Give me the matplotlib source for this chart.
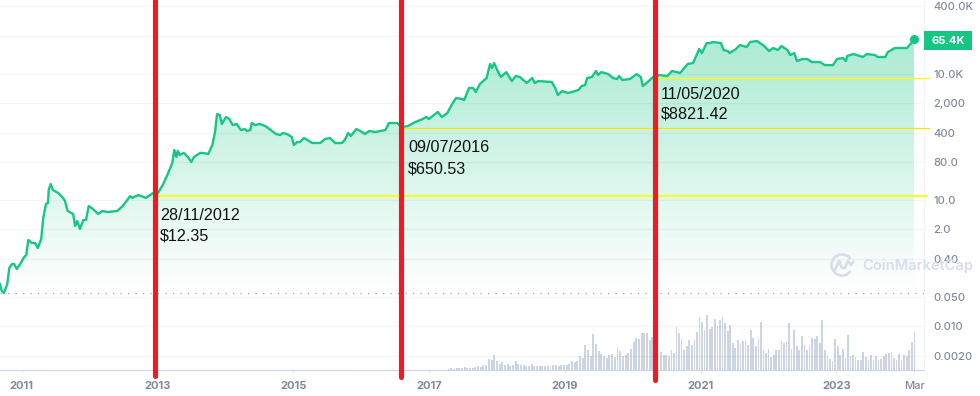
#!/usr/bin/python3
# plot.py

import numpy as np
import matplotlib
matplotlib.use("Agg")
import matplotlib.pyplot as plt
from matplotlib.colors import LinearSegmentedColormap
from matplotlib.patches import Arc, Polygon, Rectangle

price_years = [
    2010.68, 2010.71, 2010.74, 2010.79, 2010.82, 2010.86, 2010.89, 2010.93, 2010.98, 2011.04,
    2011.07, 2011.10, 2011.15, 2011.20, 2011.24, 2011.29, 2011.32, 2011.36, 2011.39, 2011.40,
    2011.43, 2011.46, 2011.54, 2011.61, 2011.64, 2011.68, 2011.76, 2011.79, 2011.82, 2011.86,
    2011.91, 2011.95, 2011.99, 2012.05, 2012.13, 2012.19, 2012.27, 2012.41, 2012.49, 2012.57,
    2012.60, 2012.63, 2012.72, 2012.83, 2012.94, 2013.01, 2013.08, 2013.16, 2013.22, 2013.25,
    2013.28, 2013.30, 2013.33, 2013.39, 2013.45, 2013.50, 2013.54, 2013.63, 2013.67, 2013.75,
    2013.81, 2013.85, 2013.88, 2013.92, 2013.95, 2014.01, 2014.06, 2014.11, 2014.17, 2014.23,
    2014.29, 2014.32, 2014.37, 2014.39, 2014.44, 2014.51, 2014.59, 2014.69, 2014.75, 2014.81,
    2014.85, 2014.91, 2014.98, 2015.01, 2015.06, 2015.10, 2015.16, 2015.28, 2015.40, 2015.47,
    2015.54, 2015.62, 2015.72, 2015.76, 2015.81, 2015.85, 2015.93, 2015.99, 2016.06, 2016.12,
    2016.21, 2016.36, 2016.41, 2016.53, 2016.60, 2016.69, 2016.80, 2016.91, 2016.96, 2017.00,
    2017.13, 2017.19, 2017.27, 2017.35, 2017.40, 2017.49, 2017.52, 2017.59, 2017.65, 2017.69,
    2017.75, 2017.85, 2017.90, 2017.93, 2017.96, 2018.02, 2018.06, 2018.14, 2018.22, 2018.28,
    2018.34, 2018.44, 2018.52, 2018.56, 2018.61, 2018.81, 2018.86, 2018.90, 2018.96, 2019.05,
    2019.20, 2019.25, 2019.30, 2019.33, 2019.40, 2019.46, 2019.49, 2019.54, 2019.64, 2019.71,
    2019.77, 2019.80, 2019.85, 2019.96, 2020.06, 2020.12, 2020.15, 2020.22, 2020.30, 2020.40,
    2020.51, 2020.58, 2020.70, 2020.81, 2020.89, 2020.98, 2021.02, 2021.09, 2021.14, 2021.18,
    2021.30, 2021.34, 2021.40, 2021.43, 2021.52, 2021.58, 2021.68, 2021.73, 2021.83, 2021.92,
    2022.01, 2022.07, 2022.14, 2022.19, 2022.28, 2022.32, 2022.38, 2022.42, 2022.50, 2022.57,
    2022.64, 2022.76, 2022.83, 2022.95, 2023.01, 2023.10, 2023.14, 2023.16, 2023.25, 2023.39,
    2023.45, 2023.57, 2023.61, 2023.72, 2023.76, 2023.86, 2024.04, 2024.15,
]
price_values = [
    0.101, 0.069, 0.062, 0.101, 0.243, 0.302, 0.302, 0.230, 0.302, 0.443,
    0.494, 1.12, 0.952, 0.952, 0.724, 1.18, 3.73, 8.03, 8.49, 17.3,
    24.0, 17.3, 14.7, 11.2, 9.47, 5.48, 4.65, 2.41, 3.17, 2.05,
    3.35, 3.35, 7.20, 6.11, 4.65, 5.48, 5.18, 5.48, 7.20, 10.6,
    12.4, 11.2, 13.1, 11.2, 14.7, 14.7, 22.7, 43.7, 75.5, 154,
    105, 146, 117, 131, 105, 79.8, 105, 131, 131, 124,
    202, 412, 1100, 1040, 637, 935, 838, 603, 637, 459,
    485, 435, 459, 673, 603, 637, 571, 435, 369, 349,
    390, 369, 313, 202, 238, 238, 297, 226, 226, 281,
    297, 226, 226, 266, 390, 331, 485, 435, 369, 435,
    412, 459, 673, 673, 541, 571, 711, 838, 935, 838,
    1230, 935, 1160, 2010, 2640, 2500, 2370, 4560, 4560, 3670,
    5680, 7890, 17000, 13600, 17900, 10900, 8330, 10900, 6690, 8800,
    8330, 6000, 7890, 6000, 6690, 6340, 4560, 3110, 3870, 3470,
    4090, 5090, 5380, 7890, 8330, 11600, 9290, 10900, 9810, 7890,
    7470, 8800, 7070, 7470, 9810, 8330, 5090, 6340, 8330, 9290,
    8800, 11600, 10400, 17000, 17900, 38500, 30900, 53500, 53500, 56500,
    53500, 36500, 34500, 30900, 38500, 48000, 43000, 56500, 59700, 48000,
    34500, 40700, 36500, 45400, 36500, 27700, 30900, 20000, 22300, 22300,
    18900, 18900, 16000, 16000, 22300, 23500, 20000, 26300, 29300, 24900,
    29300, 27700, 24900, 24900, 32700, 40700, 40700, 65400,
]

# relative volume, 2017 to the 2020 halving
volume_early = [
    1.5, 2, 1.5, 2, 2, 2, 3, 2, 2.5, 2, 3, 4, 3, 5, 5, 11, 10.5, 15, 9, 6.5,
    8, 5.5, 6, 4.5, 5, 9, 6.5, 5, 5, 4, 4, 6, 4.5, 4, 4.5, 4.5, 4, 4, 4, 5,
    5, 4.5, 5, 5, 5, 6, 9, 8.5, 9, 14, 12, 25, 20, 14.5, 36, 26, 19, 16, 14, 12,
    15, 16, 13, 22, 19, 14, 15, 17, 21, 28, 32, 31, 37, 37, 37, 30, 33, 19,
]
# relative volume, after that
volume_late = [
    18, 15, 15, 14, 20, 17, 43, 37, 31, 20, 24, 30, 25, 30, 38, 53, 48, 40, 55, 41,
    43, 51, 44, 50, 53, 47, 39, 45, 27, 22, 30, 26, 29, 30, 25, 40, 32, 24, 31, 48,
    20, 17, 21, 13, 15, 20, 20, 29, 27, 28, 47, 21, 40, 24, 20, 34, 25, 20, 25, 32,
    31, 34, 27, 50, 20, 14, 11, 9, 31, 24, 15, 21, 12, 35, 14, 15, 13, 10, 10, 18,
    13, 10, 15, 10, 14, 10, 11, 14, 16, 17, 18, 12, 10, 16, 10, 15, 14, 20, 28, 38,
]

y_ticks = [400000, 80000, 10000, 2000, 400, 80, 10, 2, 0.4, 0.05, 0.01, 0.002]
y_labels = ["400.0K", "", "10.0K", "2,000", "400", "80.0", "10.0", "2.0", "0.40", "0.050", "0.010", "0.0020"]
x_ticks = [2011, 2013, 2015, 2017, 2019, 2021, 2023, 2024.15]
x_labels = ["2011", "2013", "2015", "2017", "2019", "2021", "2023", "Mar"]

marker_years = [2012.97, 2016.59, 2020.33]
marker_levels = [12.2, 527, 7690]
marker_dates = ["28/11/2012", "09/07/2016", "11/05/2020"]
marker_prices = ["$12.35", "$650.53", "$8821.42"]

GREEN = "#16c784"
GREY = "#808a9d"
FAINT = "#cdd4e3"
MARK = "#d8dde9"

plt.rcParams["font.family"] = ["Inter", "DejaVu Sans"]

fig = plt.figure(figsize=(9.8, 3.96), dpi=100)
ax = fig.add_axes([0, 26 / 396, 924 / 980, 370 / 396])
ax.set_yscale("log")
ax.set_xlim(2010.683, 2024.291)
ax.set_ylim(0.000916, 563000)
ax.set_zorder(2)
ax.patch.set_visible(False)

# volume sits on its own linear scale under the price
ax2 = fig.add_axes(ax.get_position(), sharex=ax)
ax2.set_ylim(0, 370)
ax2.set_zorder(1)
ax2.axis("off")
ax2.bar(np.linspace(2017.29, 2020.33, len(volume_early)), volume_early, width=0.029, color=FAINT, linewidth=0)
ax2.bar(np.linspace(2020.42, 2024.15, len(volume_late)), volume_late, width=0.025, color=FAINT, linewidth=0)

# gradient under the price line
floor = min(price_values)
fade = LinearSegmentedColormap.from_list("fade", [(22 / 255, 199 / 255, 132 / 255, 0), (22 / 255, 199 / 255, 132 / 255, 0.36)])
y_edges = np.geomspace(floor, 80000, 150)
mesh = ax.pcolormesh([price_years[0], price_years[-1]], y_edges, np.linspace(0, 1, 149).reshape(-1, 1),
                     cmap=fade, shading="flat", antialiased=False, linewidth=0, zorder=1)
outline = list(zip(price_years, price_values)) + [(price_years[-1], floor), (price_years[0], floor)]
clip = Polygon(outline, closed=True, transform=ax.transData, facecolor="none", edgecolor="none")
ax.add_patch(clip)
mesh.set_clip_path(clip)

ax.axhline(floor, color="#9aa1ad", linestyle=(0, (1, 5)), linewidth=0.9, zorder=2)
for tick in y_ticks:
    ax.axhline(tick, color=(0, 0, 0, 0.04), linewidth=1, zorder=2)

ax.plot(price_years, price_values, color=GREEN, linewidth=1.7, solid_joinstyle="round", zorder=3)
ax.plot(price_years[-1], price_values[-1], "o", color=GREEN, markersize=5.5, zorder=4)

for spine in ["top", "left"]:
    ax.spines[spine].set_visible(False)
ax.spines["right"].set_color("#f1f3f6")
ax.spines["bottom"].set_color(FAINT)
ax.spines["bottom"].set_linestyle((0, (1.3, 0.6)))

ax.yaxis.tick_right()
ax.set_yticks(y_ticks, y_labels)
ax.minorticks_off()
ax.tick_params(axis="y", length=0, pad=6.5, labelsize=8, labelcolor=GREY)
ax.set_xticks(x_ticks, x_labels)
ax.tick_params(axis="x", length=2, width=0.8, color="#e4e7ec", pad=6, labelsize=8, labelcolor=GREY)
for label in ax.get_xticklabels():
    label.set_fontweight("bold")
for label in ax.get_yticklabels():
    label.set_fontweight("medium")
ax.get_xticklabels()[-1].set_fontweight("medium")

# hand drawn annotations
red_ends = [0.00066, 0.00062, 0.00053]
x_left = [2012.99, 2016.62, 2020.35]
x_right = [2024.33, 2024.36, 2024.37]
text_years = [2013.04, 2016.69, 2020.42]
date_y = [4.17, 172, 3210]
price_y = [1.36, 55, 1100]
for i in range(3):
    ax.plot([marker_years[i], marker_years[i]], [red_ends[i], 563000], color="#ed1c24", linewidth=3.7,
            solid_capstyle="round", clip_on=False, zorder=6)
    ax.plot([x_left[i], x_right[i]], [marker_levels[i], marker_levels[i]], color="#ffff00" if i != 1 else "#f7e600",
            linewidth=1.3 if i == 0 else 0.9, clip_on=False, zorder=5)
    ax.text(text_years[i], date_y[i], marker_dates[i], family="Liberation Sans", fontsize=11.6, color="#111111", va="center", zorder=7)
    ax.text(text_years[i], price_y[i], marker_prices[i], family="Liberation Sans", fontsize=11.6, color="#111111", va="center", zorder=7)

# pixel overlay for the price tag and the watermark
over = fig.add_axes([0, 0, 1, 1])
over.set_xlim(0, 980)
over.set_ylim(396, 0)
over.axis("off")
over.set_zorder(8)
over.add_patch(Rectangle((924, 31), 48, 19, facecolor=GREEN, edgecolor="none"))
over.text(948, 40.5, "65.4K", color="white", fontsize=8, fontweight="bold", ha="center", va="center")
over.add_patch(Arc((842, 265), 21, 21, theta1=35, theta2=325, color=MARK, linewidth=1.9))
over.plot([835, 839, 842, 845, 848, 851, 853], [270, 261, 268, 268, 261, 265, 262], color=MARK, linewidth=1.9)
over.text(862, 266, "CoinMarketCap", color=MARK, fontsize=10.6, fontweight="semibold", va="center", clip_on=False)

fig.savefig("out.png", dpi=100)
